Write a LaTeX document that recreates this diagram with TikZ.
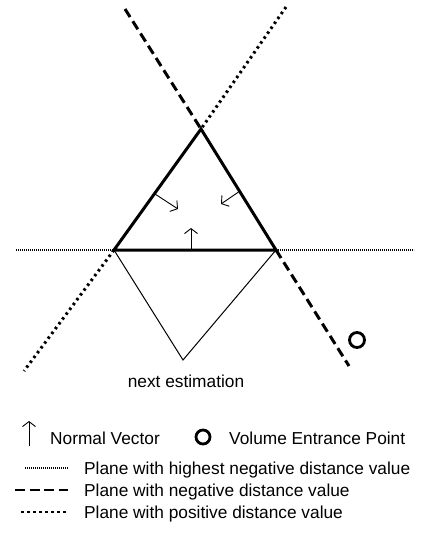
\documentclass[tikz,border=0pt]{standalone}
\usepackage{fontspec}
\setmainfont{Liberation Sans}
\usetikzlibrary{arrows.meta,calc}
\tikzset{
  label-text/.style={font=\fontsize{17.3bp}{20bp}\selectfont, inner sep=0pt},
  estimate-edge/.style={line width=1bp},
  best-edge/.style={line width=3bp},
  highest-plane/.style={line width=2.4bp, dash pattern=on 1bp off 1bp},
  negative-plane/.style={line width=3bp, dash pattern=on 9.5bp off 5bp},
  positive-plane/.style={line width=3bp, dash pattern=on 2.5bp off 3.5bp},
  normal-arrow/.style={-{Straight Barb[length=5bp,width=13bp]}, line width=0.9bp},
  entry-mark/.style={circle, draw, line width=2.8bp, minimum size=15bp, inner sep=0pt}
}
\begin{document}
\begin{tikzpicture}[x=1bp,y=-1bp]
\useasboundingbox (0,0) rectangle (424,547);
% triangle corners and the far ends of the three planes
\coordinate (apex) at (201,129);
\coordinate (left) at (114,250);
\coordinate (right) at (276,250);
\coordinate (next) at (183,360);
\coordinate (negtop) at (125,9);
\coordinate (negend) at (349,366);
\coordinate (postop) at (286,7);
\coordinate (posend) at (24,371);
\coordinate (highw) at (16,250);
\coordinate (highe) at (414,250);
% the three planes, outside the triangle only
\draw[highest-plane] (highw) -- (left);
\draw[highest-plane] (right) -- (highe);
\draw[negative-plane] (negtop) -- (apex);
\draw[negative-plane] (right) -- (negend);
\draw[positive-plane] (postop) -- (apex);
\draw[positive-plane] (left) -- (posend);
% next estimation below the base
\draw[estimate-edge] (left) -- (next) -- (right);
% current estimation
\draw[best-edge, line join=miter] (left) -- (apex) -- (right) -- cycle;
% normals pointing inward
\coordinate (nb0) at (191,250); \coordinate (nb1) at (191,228);
\coordinate (nl0) at (155,194); \coordinate (nl1) at (178,209);
\coordinate (nr0) at (240,191); \coordinate (nr1) at (221,204);
\draw[normal-arrow] (nb0) -- (nb1);
\draw[normal-arrow] (nl0) -- (nl1);
\draw[normal-arrow] (nr0) -- (nr1);
% volume entrance point
\node[entry-mark] (entry) at (357,340) {};
\node[label-text] (nextlabel) at (186,381) {next estimation};
% legend
\coordinate (lg0) at (29,446); \coordinate (lg1) at (29,421);
\draw[normal-arrow] (lg0) -- (lg1);
\node[label-text, anchor=base west] (normallabel) at (50,444) {Normal Vector};
\node[entry-mark, minimum size=14bp] (legentry) at (203,437) {};
\node[label-text, anchor=base west] (entrylabel) at (229,444) {Volume Entrance Point};
\coordinate (l1a) at (25,468); \coordinate (l1b) at (68,468);
\coordinate (l2a) at (15,490); \coordinate (l2b) at (68,490);
\coordinate (l3a) at (21,512); \coordinate (l3b) at (68,512);
\draw[highest-plane, line width=2bp] (l1a) -- (l1b);
\draw[negative-plane, line width=2.6bp, dash pattern=on 10bp off 4.5bp] (l2a) -- (l2b);
\draw[positive-plane, line width=2.6bp] (l3a) -- (l3b);
\node[label-text, anchor=base west] (highlabel) at (84,474) {Plane with highest negative distance value};
\node[label-text, anchor=base west] (neglabel) at (84,496) {Plane with negative distance value};
\node[label-text, anchor=base west] (poslabel) at (84,518) {Plane with positive distance value};
\end{tikzpicture}
\end{document}
